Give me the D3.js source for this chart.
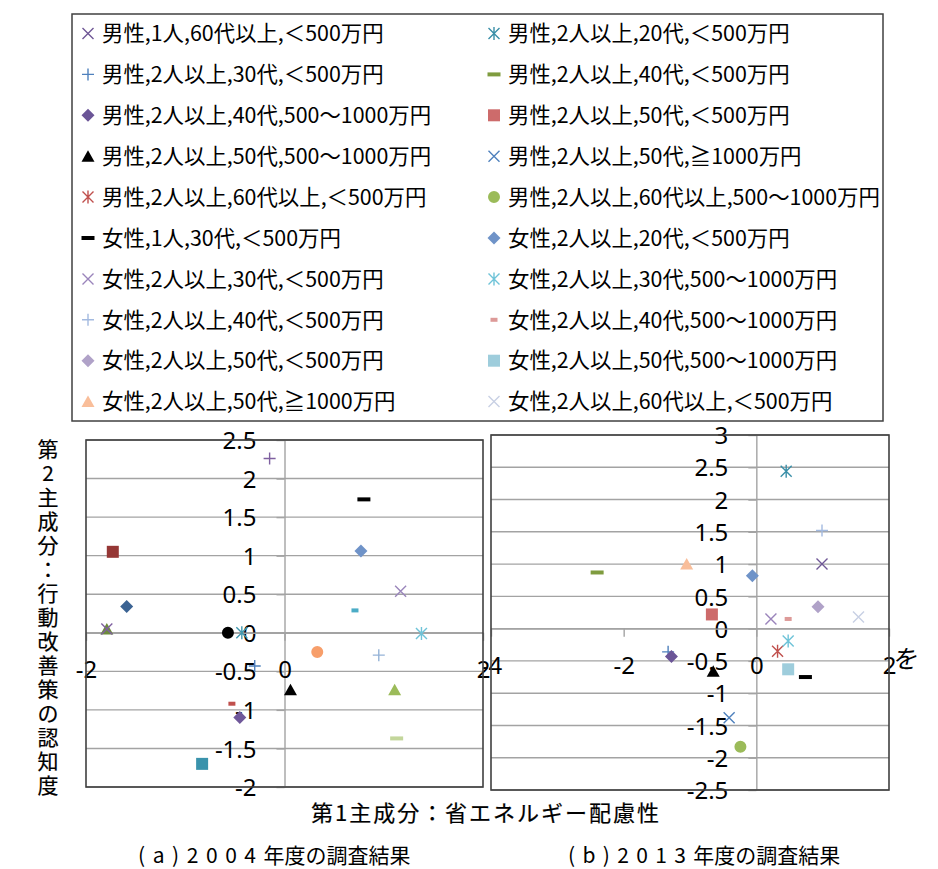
<!DOCTYPE html>
<html>
<head>
<meta charset="utf-8">
<script src="https://cdn.jsdelivr.net/npm/d3@7"></script>
<style>
  body { margin: 0; background: #fff; }
  text { font-family: "Noto Sans CJK JP", "Noto Sans", sans-serif; fill: #000; }
  .tick text { font-family: "Noto Sans", sans-serif; font-size: 24px; }
  .ttl { stroke: #000; stroke-width: 0.2px; }
</style>
</head>
<body>
<svg id="chart" width="938" height="869"></svg>
<script>
// series names (legend order, row-major over two columns)
const seriesNames = [
  "男性,1人,60代以上,＜500万円",
  "男性,2人以上,20代,＜500万円",
  "男性,2人以上,30代,＜500万円",
  "男性,2人以上,40代,＜500万円",
  "男性,2人以上,40代,500～1000万円",
  "男性,2人以上,50代,＜500万円",
  "男性,2人以上,50代,500～1000万円",
  "男性,2人以上,50代,≧1000万円",
  "男性,2人以上,60代以上,＜500万円",
  "男性,2人以上,60代以上,500～1000万円",
  "女性,1人,30代,＜500万円",
  "女性,2人以上,20代,＜500万円",
  "女性,2人以上,30代,＜500万円",
  "女性,2人以上,30代,500～1000万円",
  "女性,2人以上,40代,＜500万円",
  "女性,2人以上,40代,500～1000万円",
  "女性,2人以上,50代,＜500万円",
  "女性,2人以上,50代,500～1000万円",
  "女性,2人以上,50代,≧1000万円",
  "女性,2人以上,60代以上,＜500万円"
];

// (b) 2013 survey, one point per series
const x2013 = [0.99, 0.45, -1.33, -2.40, -1.28, -0.67, -0.65, -0.41, 0.32, -0.24,
               0.74, -0.06, 0.22, 0.48, 0.99, 0.48, 0.93, 0.48, -1.05, 1.54];
const y2013 = [1.00, 2.44, -0.36, 0.87, -0.43, 0.22, -0.66, -1.38, -0.35, -1.83,
               -0.75, 0.82, 0.15, -0.19, 1.52, 0.15, 0.34, -0.63, 1.00, 0.18];

// (a) 2004 survey points (its own marker set)
const x2004 = [-0.15, 0.80, 0.77, 1.17, 0.71, -1.73, -1.59, -1.79, -1.79, -0.57, -0.43,
               -0.30, -0.53, -0.45, -0.83, 1.38, 0.33, 0.95, 0.06, 1.11, 1.13];
const y2004 = [2.26, 1.73, 1.06, 0.54, 0.29, 1.05, 0.34, 0.05, 0.05, 0.00, 0.00,
               -0.43, -0.92, -1.10, -1.70, -0.01, -0.25, -0.29, -0.74, -0.74, -1.37];

const xTicks2004 = [-2, 0, 2];
const yTicks2004 = [-2, -1.5, -1, -0.5, 0, 0.5, 1, 1.5, 2, 2.5];
const xTicks2013 = [-4, -2, 0, 2];
const yTicks2013 = [-2.5, -2, -1.5, -1, -0.5, 0, 0.5, 1, 1.5, 2, 2.5, 3];

const xTitle = "第1主成分：省エネルギー配慮性";
const yTitle = "第2主成分：行動改善策の認知度";
const captions = [["(a)2004", "年度の調査結果"], ["(b)2013", "年度の調査結果"]];

// marker styles [shape, colour]
const style2013 = [
  ["x", "#6f5796"], ["star", "#3a8fa8"], ["plus", "#4f81bd"], ["dash", "#7f9c3f"],
  ["diamond", "#6b5597"], ["square", "#cd6b6b"], ["triangle", "#000"], ["x", "#4f81bd"],
  ["star", "#c0504d"], ["circle", "#9bbb59"], ["dash", "#000"], ["diamond", "#6f93c8"],
  ["x", "#9a84bb"], ["star", "#6ec3d8"], ["plus", "#a3bae0"], ["dashS", "#dd9a98"],
  ["diamond", "#b0a2c8"], ["square", "#9ecddc"], ["triangle", "#f9be9a"], ["x", "#c8d0e4"]
];
const style2004 = [
  ["plus", "#7f60a0"], ["dash", "#000"], ["diamond", "#6f93c8"], ["x", "#9a86bb"],
  ["dashS", "#4bacc6"], ["square", "#953735"], ["diamond", "#3b6393"], ["triangle", "#6e8b3d"],
  ["x", "#7f60a0"], ["circle", "#000"], ["star", "#4198af"], ["plus", "#4f81bd"],
  ["dashS", "#c0504d"], ["diamond", "#70589a"], ["square", "#3a93ac"], ["star", "#6ec3d8"],
  ["circle", "#f79e6a"], ["plus", "#95b3d7"], ["triangle", "#000"], ["triangle", "#9bbb59"],
  ["dash", "#c3d69b"]
];

const H = 5.5;
const shapes = {
  x: { d: `M${-H},${-H}L${H},${H}M${-H},${H}L${H},${-H}`, line: true },
  plus: { d: `M-6,0H6M0,-6V6`, line: true },
  star: { d: `M${-H},${-H}L${H},${H}M${-H},${H}L${H},${-H}M0,-6.5V6.5`, line: true },
  diamond: { d: "M0,-6.5L6.5,0L0,6.5L-6.5,0Z" },
  square: { d: "M-6,-6H6V6H-6Z" },
  triangle: { d: "M0,-6L6.5,5.5H-6.5Z" },
  circle: { d: d3.symbol(d3.symbolCircle, 113)() },
  dash: { d: "M-6.5,-2H6.5V2H-6.5Z" },
  dashS: { d: "M-3.5,-2H3.5V2H-3.5Z" }
};

function marker(g, st, x, y) {
  const s = shapes[st[0]];
  const p = g.append("path").attr("d", s.d).attr("transform", `translate(${x},${y})`);
  if (s.line) p.attr("fill", "none").attr("stroke", st[1]).attr("stroke-width", 1.4);
  else p.attr("fill", st[1]);
}

const svg = d3.select("#chart");
svg.append("rect").attr("width", 938).attr("height", 869).attr("fill", "#fff");

// legend
svg.append("rect").attr("x", 72).attr("y", 14).attr("width", 811).attr("height", 407)
  .attr("fill", "#fff").attr("stroke", "#404040").attr("stroke-width", 1.5);
const lg = svg.append("g");
seriesNames.forEach((name, i) => {
  const col = i % 2, row = Math.floor(i / 2);
  const y = 33.5 + row * 40.9;
  const mx = col ? 494 : 88;
  marker(lg, style2013[i], mx, y);
  lg.append("text").attr("x", mx + 14).attr("y", y).attr("dy", "0.36em")
    .attr("font-size", 21.4).text(name);
});

function panel(o) {
  const x = d3.scaleLinear().domain(o.xd).range(o.xr);
  const y = d3.scaleLinear().domain(o.yd).range(o.yr);
  const g = svg.append("g");
  g.append("rect").attr("x", o.xr[0]).attr("y", o.yr[1])
    .attr("width", o.xr[1] - o.xr[0]).attr("height", o.yr[0] - o.yr[1]).attr("fill", "#fff");
  // gridlines
  g.append("g").selectAll("line").data(o.yt).join("line")
    .attr("x1", o.xr[0]).attr("x2", o.xr[1]).attr("y1", d => y(d)).attr("y2", d => y(d))
    .attr("stroke", "#a3a3a3").attr("stroke-width", 1.4);
  const fmt = d => String(d);
  const ya = g.append("g").attr("transform", `translate(${x(0)},0)`)
    .call(d3.axisLeft(y).tickValues(o.yt).tickFormat(fmt).tickSize(8).tickSizeOuter(0).tickPadding(20));
  const xa = g.append("g").attr("transform", `translate(0,${y(0)})`)
    .call(d3.axisBottom(x).tickValues(o.xt).tickFormat(fmt).tickSize(8).tickSizeOuter(0).tickPadding(20));
  [ya, xa].forEach(a => {
    a.select(".domain").attr("stroke", "#a3a3a3").attr("stroke-width", 1.4);
    a.selectAll(".tick line").attr("stroke", "#a3a3a3").attr("stroke-width", 1.4);
    a.selectAll(".tick text").attr("fill", "#000");
  });
  ya.selectAll(".tick text").attr("dy", "0.36em");
  o.xs.forEach((v, i) => marker(g, o.st[i], x(v), y(o.ys[i])));
  g.append("rect").attr("x", o.xr[0]).attr("y", o.yr[1])
    .attr("width", o.xr[1] - o.xr[0]).attr("height", o.yr[0] - o.yr[1])
    .attr("fill", "none").attr("stroke", "#404040").attr("stroke-width", 1.6);
}

panel({ xd: [-4, 2], xr: [491, 889], yd: [-2.5, 3], yr: [790, 435],
        xt: xTicks2013, yt: yTicks2013, xs: x2013, ys: y2013, st: style2013 });
panel({ xd: [-2, 2], xr: [86, 483], yd: [-2, 2.5], yr: [787, 440],
        xt: xTicks2004, yt: yTicks2004, xs: x2004, ys: y2004, st: style2004 });

// stray character from the surrounding page
svg.append("text").attr("x", 894).attr("y", 668).attr("font-size", 25)
  .attr("transform", "skewX(-12) translate(140,0)").text("を");

// axis titles
svg.append("text").attr("class", "ttl").attr("x", 485).attr("y", 813).attr("dy", "0.36em")
  .attr("text-anchor", "middle").attr("font-size", 22)
  .attr("textLength", 348).attr("lengthAdjust", "spacing").text(xTitle);
svg.append("g").selectAll("text").data(Array.from(yTitle)).join("text")
  .attr("class", "ttl").attr("x", 48).attr("y", (d, i) => 449 + i * 24).attr("dy", "0.36em")
  .attr("text-anchor", "middle").attr("font-size", 21)
  .text(d => d);

// captions
captions.forEach((c, i) => {
  const t = svg.append("text").attr("x", i ? 568 : 138).attr("y", 855).attr("dy", "0.36em")
    .attr("font-size", 21);
  t.append("tspan").attr("textLength", 118).attr("lengthAdjust", "spacing").text(c[0]);
  t.append("tspan").text(c[1]);
});
</script>
</body>
</html>
